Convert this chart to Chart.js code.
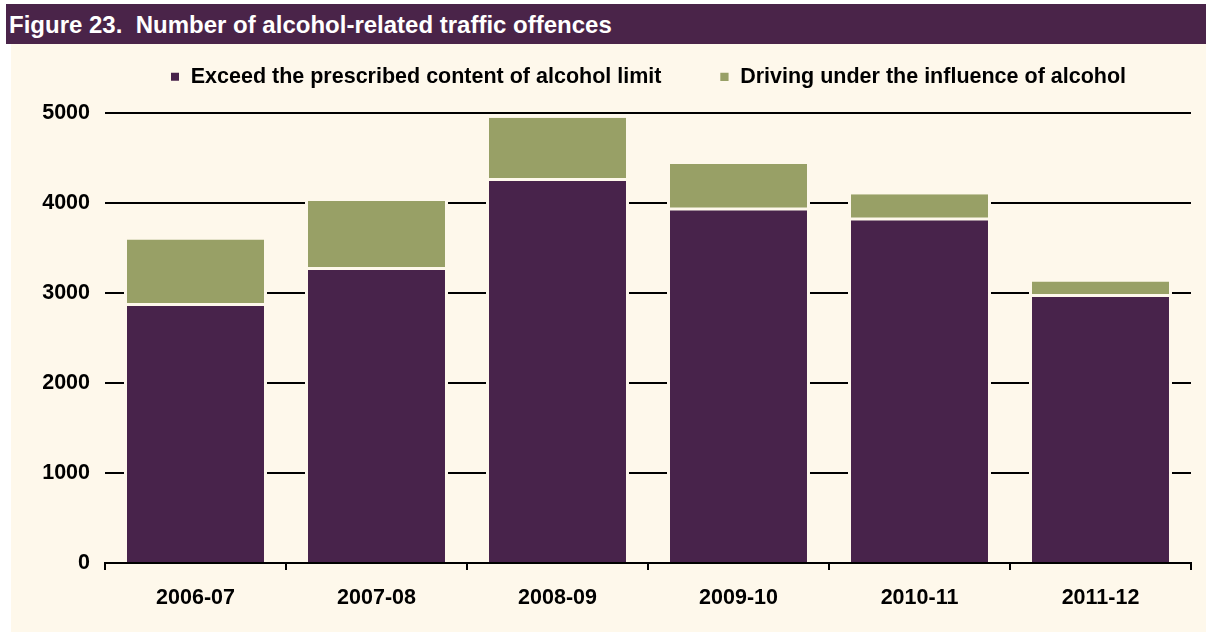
<!DOCTYPE html>
<html>
<head>
<meta charset="utf-8">
<title>Figure 23</title>
<script src="https://cdn.jsdelivr.net/npm/chart.js@4/dist/chart.umd.min.js"></script>
<style>
	body {
		margin: 0;
		background: #ffffff;
		font-family: "Liberation Sans", Arial, Helvetica, sans-serif;
	}
	.fig-title {
		position: absolute;
		left: 6px;
		top: 4px;
		width: 1197px;
		height: 40px;
		padding-left: 3px;
		background: #4a2449;
		color: #ffffff;
		font-weight: bold;
		font-size: 24px;
		line-height: 41px;
		white-space: pre;
	}
	.fig-body {
		position: absolute;
		left: 11px;
		top: 44px;
		width: 1195px;
		height: 588px;
		background: #fef8eb;
	}
</style>
</head>
<body>
<div class="fig-title">Figure 23.  Number of alcohol-related traffic offences</div>
<div class="fig-body"><canvas id="chart" width="1195" height="588"></canvas></div>

<script>
"use strict"

// данные графика
const categories = ['2006-07', '2007-08', '2008-09', '2009-10', '2010-11', '2011-12'];
const exceedLimit = [2880, 3280, 4270, 3940, 3830, 2980];
const drivingInfluence = [715, 745, 680, 495, 270, 150];
const yTicks = [0, 1000, 2000, 3000, 4000, 5000];

const seriesNames = [
	'Exceed the prescribed content of alcohol limit',
	'Driving under the influence of alcohol'
];

const cream = '#fef8eb';
const fontFamily = '"Liberation Sans", Arial, Helvetica, sans-serif';
const tickFont = { family: fontFamily, size: 21.5, weight: 'bold' };

const chart = new Chart(
	document.getElementById('chart'),
	{
		type: 'bar',
		data: {
			labels: categories,
			datasets: [
				{
					label: seriesNames[0],
					data: exceedLimit,
					backgroundColor: '#48234b',
					borderColor: cream,
					borderWidth: { top: 2, left: 3, right: 3, bottom: 0 },
					borderSkipped: false,
				},
				{
					label: seriesNames[1],
					data: drivingInfluence,
					backgroundColor: '#98a066',
					borderColor: cream,
					borderWidth: { top: 0, left: 3, right: 3, bottom: 1 },
					borderSkipped: false,
				}
			]
		},
		options: {
			responsive: false,
			animation: false,
			layout: {
				// legend padding is also the gap between the items, so pull it up
				padding: { top: -36, left: 0, right: 15, bottom: 19 }
			},
			datasets: {
				bar: {
					barPercentage: 0.79,
					categoryPercentage: 1
				}
			},
			plugins: {
				tooltip: { enabled: false },
				legend: {
					position: 'top',
					fullSize: false,
					labels: {
						color: '#000',
						boxWidth: 10,
						boxHeight: 10,
						padding: 58,
						font: tickFont
					}
				}
			},
			scales: {
				x: {
					stacked: true,
					afterFit: function (scale) { scale.height = 50; },
					border: { display: true, color: '#000', width: 2 },
					grid: {
						display: true,
						drawOnChartArea: false,
						drawTicks: true,
						tickLength: 7,
						color: '#000',
						lineWidth: 2
					},
					ticks: {
						color: '#000',
						padding: 15,
						font: tickFont
					}
				},
				y: {
					stacked: true,
					min: 0,
					max: 5175,
					afterFit: function (scale) { scale.width = 94; },
					afterBuildTicks: function (scale) {
						scale.ticks = yTicks.map(v => ({ value: v }));
					},
					border: { display: false },
					grid: {
						color: '#000',
						lineWidth: 2,
						drawTicks: false
					},
					ticks: {
						color: '#000',
						padding: 15,
						font: tickFont,
						callback: value => String(value)
					}
				}
			}
		}
	}
);
</script>
</body>
</html>
